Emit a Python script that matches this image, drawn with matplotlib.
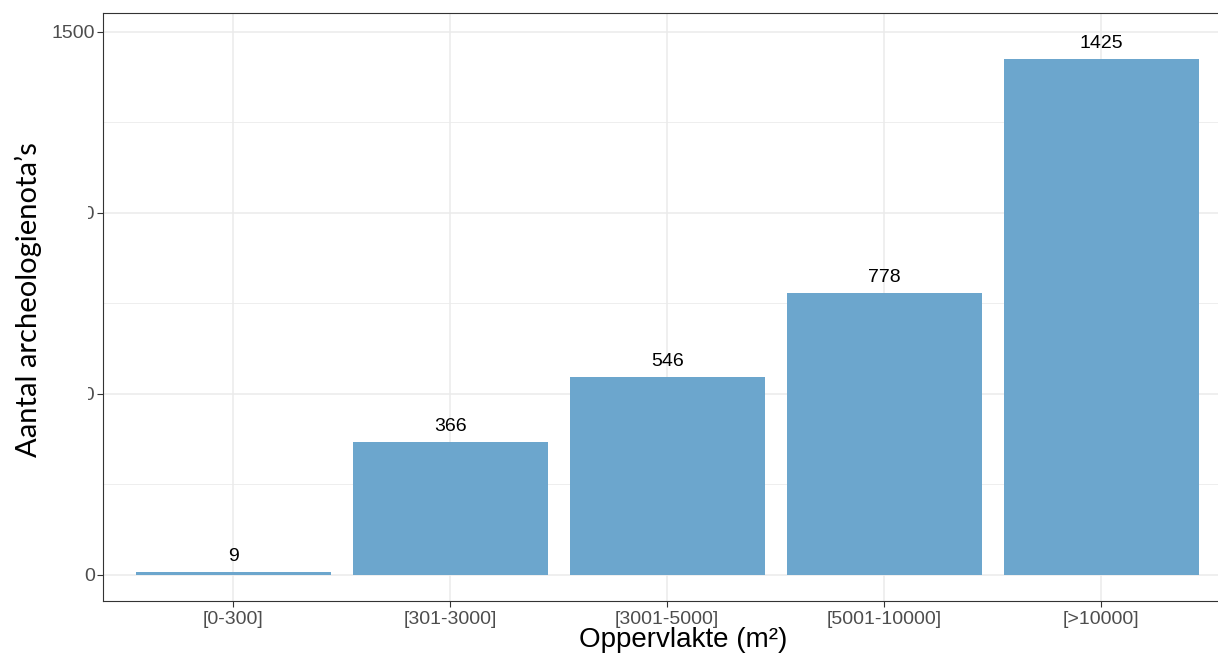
import matplotlib.pyplot as plt
from matplotlib.patches import Rectangle

categories = ['[0-300]', '[301-3000]', '[3001-5000]', '[5001-10000]', '[>10000]']
counts = [9, 366, 546, 778, 1425]
yticks = [0, 500, 1000, 1500]
ytick_labels = ['0', '500', '1000', '1500']

plt.rcParams['font.family'] = ['Liberation Sans', 'DejaVu Sans']

W, H = 1218, 653
fig = plt.figure(figsize=(W / 100, H / 100), dpi=100)
# axes runs past the right edge of the picture, as in the cropped original
ax = fig.add_axes([103 / W, 1 - 601 / H, 1128.4 / W, 588 / H])

x = list(range(len(categories)))
ax.bar(x, counts, width=0.9, color='#6CA6CD', zorder=2)
for xi, v in zip(x, counts):
    ax.annotate(str(v), (xi, v), xytext=(0, 5), textcoords='offset points',
                ha='center', va='bottom', fontsize=14, color='black', zorder=3)

ax.set_xlim(-0.6, 4.6)
ax.set_ylim(-72, 1552)
ax.set_xticks(x)
ax.set_xticklabels(categories)
ax.set_yticks(yticks)
ax.set_yticklabels(ytick_labels)
ax.set_yticks([250, 750, 1250], minor=True)
ax.grid(True, which='major', color='#EBEBEB', linewidth=1.1, zorder=0)
ax.grid(True, which='minor', axis='y', color='#EBEBEB', linewidth=0.6, zorder=0)
ax.tick_params(which='major', length=4, color='#333333', labelsize=14,
               labelcolor='#4D4D4D', width=0.8)
ax.tick_params(axis='y', which='major', pad=2)
ax.tick_params(which='minor', length=0)
for s in ax.spines.values():
    s.set_color('#333333')
    s.set_linewidth(0.8)

ax.set_xlabel('Oppervlakte (m²)', fontsize=20)
ax.xaxis.set_label_coords(0.514, -0.044, transform=ax.transAxes)
ax.xaxis.label.set_va('top')

# white block over the middle tick labels, then the y title on top of it
fig.patches.append(Rectangle((0, 1 - 470 / H), 88 / W, 350 / H, transform=fig.transFigure,
                             facecolor='white', edgecolor='none', zorder=5))
fig.text(28 / W, 1 - 300 / H, 'Aantal archeologienota\u2019s', rotation=90,
         ha='center', va='center', fontsize=21, family=['Lato', 'DejaVu Sans'], zorder=6)

fig.savefig('out.png', dpi=100)
